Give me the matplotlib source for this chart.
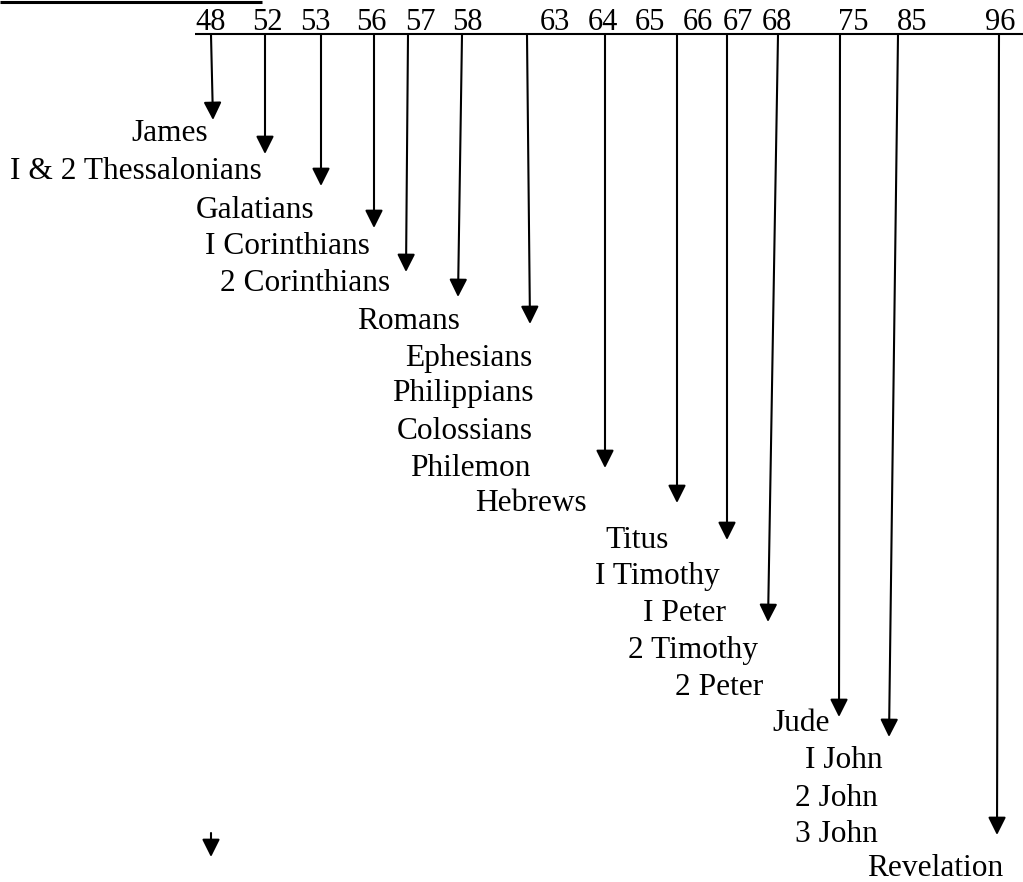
import matplotlib
matplotlib.use("Agg")
import matplotlib.pyplot as plt

# data: years on the timeline and the books written in each
years = ["48", "52", "53", "56", "57", "58", "63", "64", "65", "66", "67", "68", "75", "85", "96"]
books = ["James", "I & 2 Thessalonians", "Galatians", "I Corinthians", "2 Corinthians",
         "Romans", "Ephesians", "Philippians", "Colossians", "Philemon", "Hebrews",
         "Titus", "I Timothy", "I Peter", "2 Timothy", "2 Peter", "Jude",
         "I John", "2 John", "3 John", "Revelation"]

# layout (pixels)
year_x = [195, 252, 300, 356, 405, 452, 540, 588, 635, 683, 723, 762, 838, 897, 985]
book_x = [131, 10, 196, 205, 220, 357, 405, 392, 397, 410, 475, 605, 595, 643, 628,
          675, 772, 805, 795, 795, 867]
book_y = [141, 179, 218, 254, 291, 329, 366, 401, 439, 476, 511, 548, 584, 621, 658,
          695, 731, 768, 806, 842, 876]
arrow_x0 = [211, 265, 321, 374, 408, 462, 527, 605, 677, 727, 778, 840, 898, 999]
arrow_x1 = [213, 265, 321, 374, 406, 458, 530, 605, 677, 727, 768, 839, 889, 997]
arrow_y1 = [120, 154, 186, 228, 272, 297, 324, 468, 503, 540, 622, 717, 737, 835]

font = "Liberation Serif"
fig = plt.figure(figsize=(10.23, 8.82), dpi=100)
ax = fig.add_axes([0, 0, 1, 1])
ax.set_xlim(0, 1023)
ax.set_ylim(882, 0)
ax.axis("off")

# top-left rule and timeline
ax.plot([0, 262], [1.5, 1.5], color="black", lw=2.2, solid_capstyle="butt")
ax.plot([195, 1023], [34, 34], color="black", lw=1.5, solid_capstyle="butt")

for x, y in zip(year_x, years):
    ax.text(x, 30, y, fontsize=22, family=font, ha="left", va="baseline")

for x, y, b in zip(book_x, book_y, books):
    ax.text(x, y, b, fontsize=22.6, family=font, ha="left", va="baseline")

arrow_style = dict(arrowstyle="-|>", color="black", lw=1.5, mutation_scale=27,
                   shrinkA=0, shrinkB=0)
for x0, x1, y1 in zip(arrow_x0, arrow_x1, arrow_y1):
    ax.annotate("", xy=(x1, y1), xytext=(x0, 35), arrowprops=arrow_style)

# stray arrow at the bottom
ax.annotate("", xy=(211, 857), xytext=(211, 833), arrowprops=arrow_style)

fig.savefig("out.png", dpi=100)
